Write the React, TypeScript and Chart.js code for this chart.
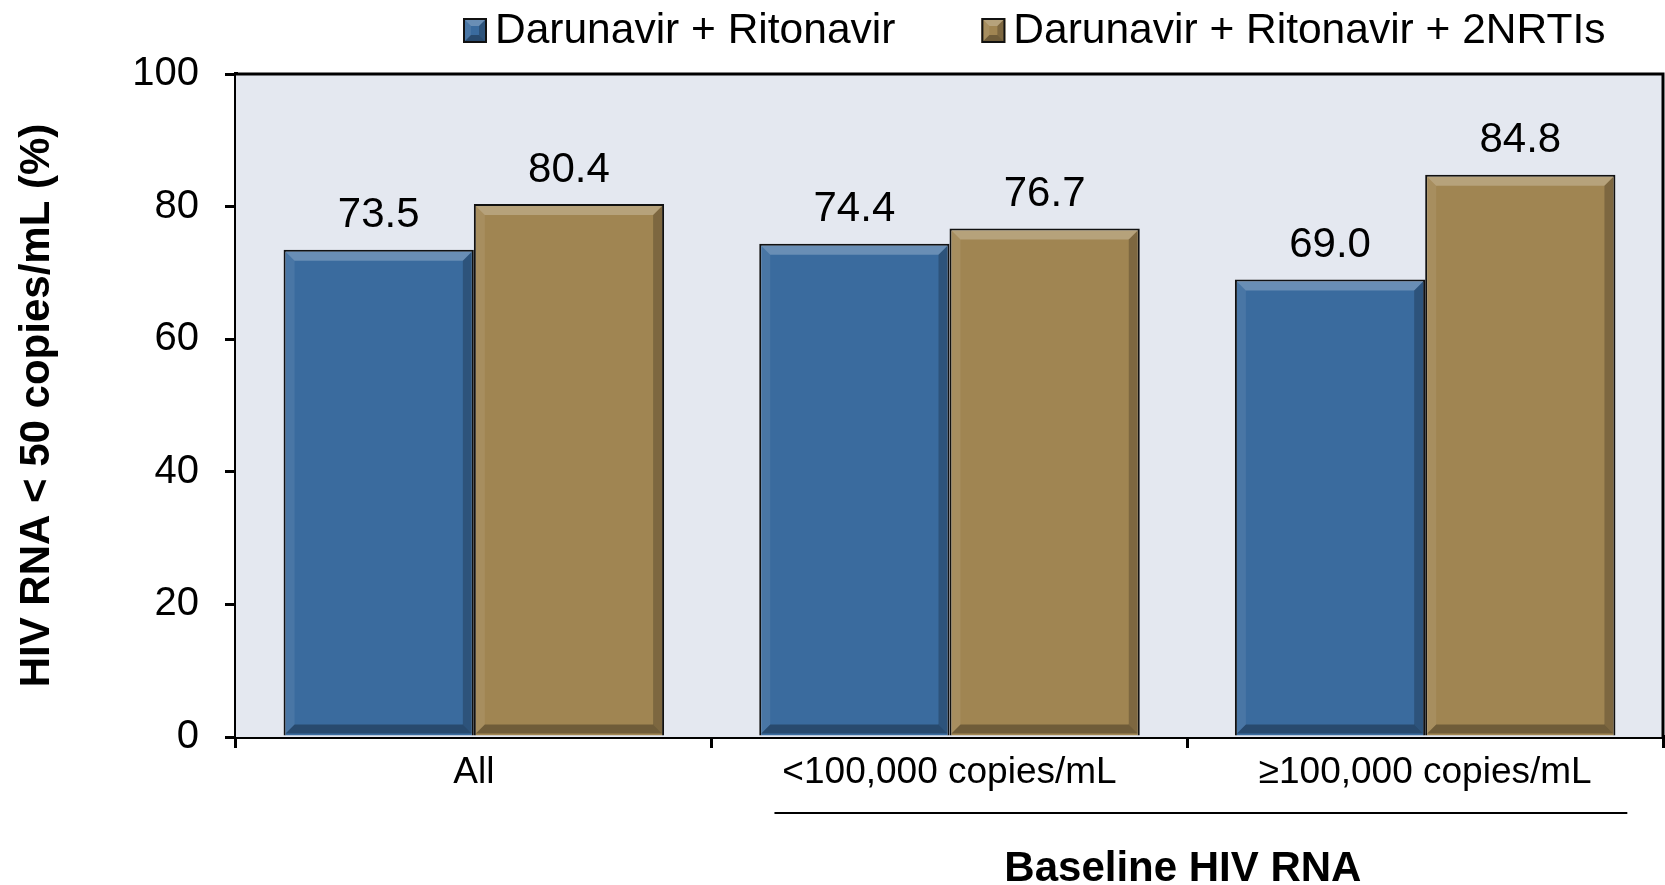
import React, { useEffect, useRef } from "react";
import { Chart, registerables } from "chart.js";

Chart.register(...registerables);

const categories = ["All", "<100,000 copies/mL", "≥100,000 copies/mL"];
const seriesNames = ["Darunavir + Ritonavir", "Darunavir + Ritonavir + 2NRTIs"];
const drvRtv = [73.5, 74.4, 69.0];
const drvRtv2Nrti = [80.4, 76.7, 84.8];
const yTicks = [0, 20, 40, 60, 80, 100];
const yTitle = "HIV RNA < 50 copies/mL (%)";
const xTitle = "Baseline HIV RNA";

const FONT = "'Liberation Sans', Arial, Helvetica, sans-serif";
const BLUE = "#3A6B9E";
const TAN = "#A08552";
const PLOT_BG = "#E4E8F0";

function bevel(ctx: CanvasRenderingContext2D, l: number, t: number, r: number, b: number, s: number) {
  const poly = (pts: number[][], fill: string) => {
    ctx.beginPath();
    ctx.moveTo(pts[0][0], pts[0][1]);
    for (let i = 1; i < pts.length; i++) ctx.lineTo(pts[i][0], pts[i][1]);
    ctx.closePath();
    ctx.fillStyle = fill;
    ctx.fill();
  };
  const sv = Math.min(s, (b - t) / 2, (r - l) / 2);
  poly([[l, t], [r, t], [r - sv, t + sv], [l + sv, t + sv]], "rgba(255,255,255,0.24)");
  poly([[l, t], [l + sv, t + sv], [l + sv, b - sv], [l, b]], "rgba(255,255,255,0.08)");
  poly([[r, t], [r - sv, t + sv], [r - sv, b - sv], [r, b]], "rgba(0,0,0,0.22)");
  poly([[l, b], [r, b], [r - sv, b - sv], [l + sv, b - sv]], "rgba(0,0,0,0.30)");
}

const framePlugin = {
  id: "frame",
  beforeDatasetsDraw(chart: any) {
    const { ctx, chartArea: a } = chart;
    ctx.save();
    ctx.fillStyle = PLOT_BG;
    ctx.fillRect(a.left, a.top, a.right - a.left, a.bottom - a.top);
    ctx.restore();
  },
  afterDatasetsDraw(chart: any) {
    const { ctx, chartArea: a } = chart;
    ctx.save();
    chart.data.datasets.forEach((ds: any, di: number) => {
      const meta = chart.getDatasetMeta(di);
      meta.data.forEach((bar: any) => {
        const { x, y, base, width } = bar.getProps(["x", "y", "base", "width"], true);
        const bw = 2;
        bevel(ctx, x - width / 2 + bw, y + bw, x + width / 2 - bw, base - bw, 9);
      });
    });
    ctx.fillStyle = "#000";
    ctx.font = `42px ${FONT}`;
    ctx.textAlign = "center";
    ctx.textBaseline = "middle";
    chart.data.datasets.forEach((ds: any, di: number) => {
      const meta = chart.getDatasetMeta(di);
      meta.data.forEach((bar: any, i: number) => {
        const v = ds.data[i];
        ctx.fillText(Number(v).toFixed(1), bar.x, bar.y - 34);
      });
    });
    ctx.strokeStyle = "#000";
    ctx.lineWidth = 3;
    ctx.beginPath();
    ctx.moveTo(a.left, a.top);
    ctx.lineTo(a.right, a.top);
    ctx.lineTo(a.right, a.bottom);
    ctx.stroke();
    ctx.restore();
  },
  afterDraw(chart: any) {
    const { ctx } = chart;
    const xs = chart.scales.x;
    ctx.save();
    const w = xs.getPixelForValue(1) - xs.getPixelForValue(0);
    const x0 = xs.getPixelForValue(1) - 0.368 * w;
    const x1 = xs.getPixelForValue(2) + 0.425 * w;
    ctx.strokeStyle = "#000";
    ctx.lineWidth = 2;
    ctx.beginPath();
    ctx.moveTo(x0, 813);
    ctx.lineTo(x1, 813);
    ctx.stroke();
    // x-axis group title
    ctx.fillStyle = "#000";
    ctx.font = `bold 42px ${FONT}`;
    ctx.textAlign = "center";
    ctx.textBaseline = "middle";
    ctx.fillText(xTitle, (x0 + x1) / 2 - 18, 869);
    // legend
    ctx.font = `42.5px ${FONT}`;
    ctx.textBaseline = "middle";
    ctx.textAlign = "left";
    let lx = 463;
    chart.data.datasets.forEach((ds: any) => {
      ctx.fillStyle = ds.backgroundColor;
      ctx.fillRect(lx, 18, 24, 25);
      bevel(ctx, lx + 2, 20, lx + 22, 41, 6);
      ctx.strokeStyle = "#111";
      ctx.lineWidth = 2;
      ctx.strokeRect(lx + 1, 19, 22, 23);
      ctx.fillStyle = "#000";
      ctx.fillText(ds.label, lx + 32, 31);
      lx += 32 + ctx.measureText(ds.label).width + 86;
    });
    ctx.restore();
  },
};

export default function App() {
  const ref = useRef<HTMLCanvasElement | null>(null);
  useEffect(() => {
    if (!ref.current) return;
    const chart = new Chart(ref.current, {
      type: "bar",
      data: {
        labels: categories,
        datasets: [
          {
            label: seriesNames[0],
            data: drvRtv,
            backgroundColor: BLUE,
            borderColor: "#111",
            borderWidth: 2,
            categoryPercentage: 0.8,
            barPercentage: 1.0,
          },
          {
            label: seriesNames[1],
            data: drvRtv2Nrti,
            backgroundColor: TAN,
            borderColor: "#111",
            borderWidth: 2,
            categoryPercentage: 0.8,
            barPercentage: 1.0,
          },
        ],
      },
      options: {
        responsive: false,
        animation: false,
        layout: { padding: { top: 74, right: 2, left: 0, bottom: 0 } },
        plugins: {
          legend: { display: false },
          tooltip: { enabled: false },
        },
        scales: {
          x: {
            grid: {
              display: true,
              drawOnChartArea: false,
              drawTicks: true,
              tickLength: 11,
              color: "#000",
              lineWidth: 3,
              offset: true,
            },
            border: { display: true, color: "#000", width: 4 },
            ticks: {
              color: "#000",
              font: { family: FONT, size: 37 },
              padding: 3,
              maxRotation: 0,
              autoSkip: false,
            },
            title: { display: false },
            afterFit(scale: any) {
              scale.height = 148;
            },
          },
          y: {
            min: 0,
            max: 100,
            afterBuildTicks(scale: any) {
              scale.ticks = yTicks.map((v) => ({ value: v }));
            },
            grid: {
              display: true,
              drawOnChartArea: false,
              drawTicks: true,
              tickLength: 11,
              color: "#000",
              lineWidth: 3,
            },
            border: { display: true, color: "#000", width: 4 },
            ticks: {
              color: "#000",
              font: { family: FONT, size: 40 },
              padding: 26,
            },
            title: {
              display: true,
              text: yTitle,
              color: "#000",
              font: { family: FONT, size: 42, weight: "bold", lineHeight: 1.2 },
              padding: { top: 12, bottom: 0 },
            },
            afterFit(scale: any) {
              scale.width = 236;
            },
          },
        },
      },
      plugins: [framePlugin],
    });
    return () => chart.destroy();
  }, []);
  return (
    <div style={{ position: "fixed", left: 0, top: 0, width: 1665, height: 885, background: "#fff" }}>
      <canvas ref={ref} width={1665} height={885} style={{ display: "block" }} />
    </div>
  );
}
